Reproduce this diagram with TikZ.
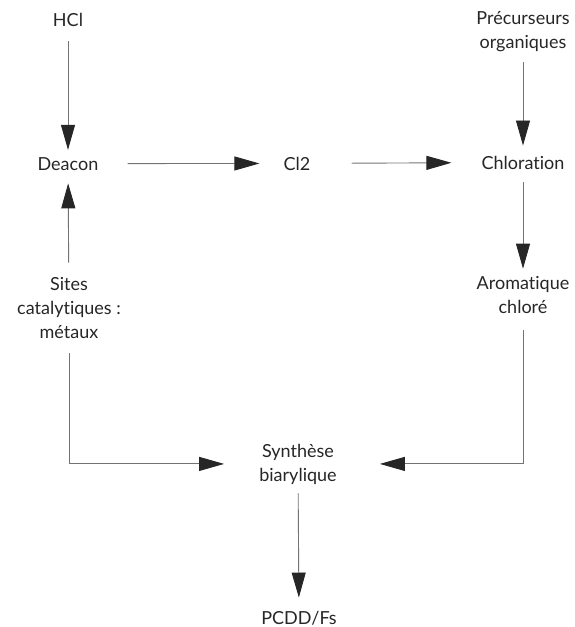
\documentclass[tikz,border=0pt]{standalone}
\usepackage{fontspec}
\setmainfont{Lato}[Ligatures={NoCommon}]
\usetikzlibrary{arrows.meta}

\begin{document}
\begin{tikzpicture}[x=1pt, y=-1pt, font=\fontsize{18}{24}\selectfont,
  every node/.style={inner sep=0pt, text=black!85},
  flow/.style={draw=black!55, line width=0.9pt,
    -{Triangle[length=25pt, width=14pt, color=black!85]}}]
  \useasboundingbox (0,0) rectangle (575,627);

  % multi-line nodes: base = last line
  %-------------
  \node[anchor=base] (hcl) at (68,26) {HCl};
  \node[anchor=base] (deacon) at (68,170) {Deacon};
  \node[anchor=base, align=center] (sites) at (69,338) {Sites\\catalytiques :\\métaux};

  %-------------
  \node[anchor=base] (cl2) at (297,170) {Cl2};

  %-------------
  \node[anchor=base, align=center] (prec) at (523,48) {Précurseurs\\organiques};
  \node[anchor=base] (chlor) at (523,169) {Chloration};
  \node[anchor=base, align=center] (arom) at (523,313) {Aromatique\\chloré};

  %-------------
  \node[anchor=base, align=center] (synth) at (298,481) {Synthèse\\biarylique};
  \node[anchor=base] (pcdd) at (299,624) {PCDD/Fs};

  %-------------
  \draw[flow, shorten <=15pt, shorten >=7pt] (hcl) -- (deacon);
  \draw[flow, shorten <=14pt, shorten >=13pt] (sites) -- (deacon);
  \draw[flow, shorten <=29pt, shorten >=24pt] (deacon) -- (cl2);
  \draw[flow, shorten <=41pt, shorten >=30pt] (cl2) -- (chlor);
  \draw[flow, shorten <=11pt, shorten >=10pt] (prec) -- (chlor);
  \draw[flow, shorten <=13pt, shorten >=7pt] (chlor) -- (arom);

  %-------------
  \draw[flow, shorten <=15pt, shorten >=35pt] (sites.south) |- (synth.west);
  \draw[flow, shorten <=17pt, shorten >=43pt] (arom.south) |- (synth.east);
  \draw[flow, shorten <=9pt, shorten >=13pt] (synth) -- (pcdd);

\end{tikzpicture}
\end{document}
